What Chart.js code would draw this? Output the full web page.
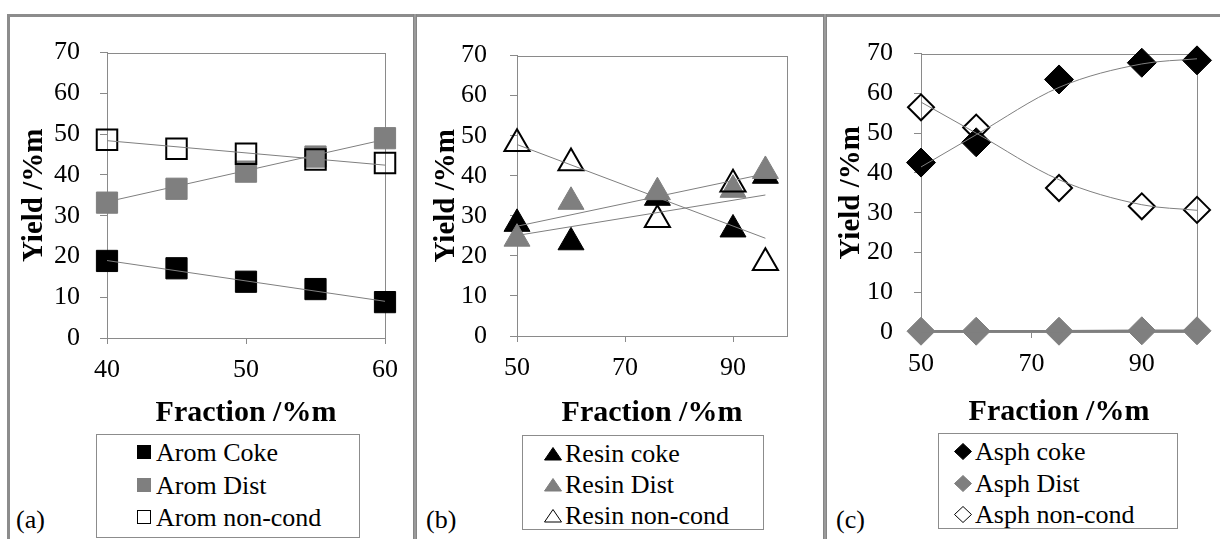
<!DOCTYPE html>
<html>
<head>
<meta charset="utf-8">
<script src="https://cdn.jsdelivr.net/npm/chart.js@4.4.1/dist/chart.umd.min.js"></script>
<style>
  body { margin: 0; background: #fff; }
  #wrap { position: relative; width: 1220px; height: 539px; overflow: hidden; color: #000; }
  .rule { position: absolute; background: #8c8c8c; }
  .panel { position: absolute; top: 17px; }
  .legend { position: absolute; border: 1px solid #8c8c8c; box-sizing: border-box; background: #fff; }
  .legend .row { position: absolute; white-space: nowrap; font-family: 'Liberation Serif'; font-size: 26px; line-height: 30px; height: 30px; }
  .legend svg { vertical-align: -1px; margin-right: 3px; }
  .tag { position: absolute; top: 505px; font-family: 'Liberation Serif'; font-size: 26px; line-height: 30px; }
</style>
</head>
<body>
<div id="wrap">
  <div class="rule" style="left:7px;top:14px;width:1213px;height:3px"></div>
  <div class="rule" style="left:7px;top:14px;width:3px;height:525px"></div>
  <div class="rule" style="left:413px;top:14px;width:4px;height:525px;background:#9a9a9a;border-left:1px solid #858585;border-right:1px solid #858585;box-sizing:border-box"></div>
  <div class="rule" style="left:823px;top:14px;width:4px;height:525px;background:#9a9a9a;border-left:1px solid #858585;border-right:1px solid #858585;box-sizing:border-box"></div>

  <div class="panel" style="left:10px"><canvas id="chartA" width="403" height="415"></canvas></div>
  <div class="panel" style="left:417px"><canvas id="chartB" width="406" height="415"></canvas></div>
  <div class="panel" style="left:827px"><canvas id="chartC" width="393" height="415"></canvas></div>

  <div class="legend" id="legA" style="left:96px;top:434px;width:264px;height:104px"></div>
  <div class="legend" id="legB" style="left:522px;top:435px;width:242px;height:95px"></div>
  <div class="legend" id="legC" style="left:938px;top:433px;width:240px;height:96px"></div>

  <div class="tag" style="left:16px">(a)</div>
  <div class="tag" style="left:426px">(b)</div>
  <div class="tag" style="left:836px">(c)</div>
</div>

<script>
// ---- (a) aromatics ----
const aromX = [40, 45, 50, 55, 60];
const aromCoke = [18.9, 17.1, 13.8, 12.0, 8.8];
const aromDist = [33.2, 36.6, 40.8, 44.5, 49.0];
const aromNonCond = [48.6, 46.4, 45.2, 43.8, 42.9];
const aromTrendX = [40, 60];
const aromCokeTrend = [19.0, 9.0];
const aromDistTrend = [33.4, 48.7];
const aromNonCondTrend = [48.4, 42.4];
const aromLabels = ["Arom Coke", "Arom Dist", "Arom non-cond"];
const aromTicks = [40, 50, 60];

// ---- (b) resins ----
const resinX = [50, 60, 76, 90, 96];
const resinCoke = [28.0, 23.4, 34.5, 26.6, 40.0];
const resinDist = [24.3, 33.5, 35.9, 36.5, 41.2];
const resinNonCond = [48.0, 43.2, 29.0, 37.9, 18.3];
const resinTrendX = [50, 96];
const resinCokeTrend = [25.1, 35.2];
const resinDistTrend = [27.4, 40.5];
const resinNonCondTrend = [47.8, 24.4];
const resinLabels = ["Resin coke", "Resin Dist", "Resin non-cond"];
const resinTicks = [50, 70, 90];

// ---- (c) asphaltenes ----
const asphX = [50, 60, 75, 90, 100];
const asphCoke = [42.6, 47.7, 63.5, 67.7, 68.3];
const asphDist = [0.2, 0.2, 0.2, 0.3, 0.3];
const asphNonCond = [56.5, 51.4, 36.2, 31.6, 30.7];
const asphCokeTrend = [41.5, 49.6, 61.5, 67.4, 68.7];
const asphDistTrend = [0.2, 0.2, 0.2, 0.3, 0.3];
const asphNonCondTrend = [57.8, 50.0, 38.3, 32.0, 30.6];
const asphLabels = ["Asph coke", "Asph Dist", "Asph non-cond"];
const asphTicks = [50, 70, 90];

const yTicksMax = 70;
const GRAY = "#7f7f7f";
const AXIS = "#8a8a8a";
const FONT = "'Liberation Serif'";

Chart.defaults.font.family = FONT;

function pts(xs, ys) {
  return xs.map((x, i) => ({ x: x, y: ys[i] }));
}

// draws the box round the plot area
const plotBox = {
  id: "plotBox",
  beforeDatasetsDraw(chart) {
    const a = chart.chartArea, ctx = chart.ctx;
    ctx.save();
    ctx.strokeStyle = AXIS;
    ctx.lineWidth = 1;
    ctx.strokeRect(Math.round(a.left) + 0.5, Math.round(a.top) + 0.5,
                   Math.round(a.right - a.left), Math.round(a.bottom - a.top));
    ctx.restore();
  }
};

function markerSet(label, xs, ys, style, fill, radius, order) {
  const open = fill === "none";
  return {
    label: label,
    data: pts(xs, ys),
    showLine: false,
    pointStyle: style,
    pointRadius: radius,
    pointHoverRadius: radius,
    pointBackgroundColor: open ? "rgba(0,0,0,0)" : fill,
    pointBorderColor: open ? "#000" : fill,
    pointBorderWidth: open ? 2 : 1,
    clip: false,
    order: order
  };
}

function trendSet(xs, ys, width, curved) {
  return {
    label: "",
    data: pts(xs, ys),
    showLine: true,
    pointRadius: 0,
    borderColor: GRAY,
    borderWidth: width,
    cubicInterpolationMode: curved ? "monotone" : "default",
    clip: false,
    order: 0
  };
}

// p: canvas size, plot area, title centres
function makeChart(id, p, xMin, xMax, xTicks, datasets) {
  const titleLH = 1.2;
  const xTitleBottom = p.xTitleY + 30 * titleLH / 2;
  new Chart(document.getElementById(id), {
    type: "scatter",
    data: { datasets: datasets },
    options: {
      responsive: false,
      animation: false,
      events: [],
      layout: {
        padding: { left: 0, top: p.top, right: p.w - p.right, bottom: p.h - xTitleBottom }
      },
      plugins: { legend: { display: false }, tooltip: { enabled: false } },
      scales: {
        x: {
          type: "linear",
          min: xMin,
          max: xMax,
          afterBuildTicks: s => { s.ticks = xTicks.map(v => ({ value: v })); },
          afterFit: s => { s.height = xTitleBottom - p.bottom; },
          ticks: { color: "#000", font: { family: FONT, size: 26 }, padding: 11, maxRotation: 0, autoSkip: false },
          grid: { drawOnChartArea: false, drawTicks: true, tickLength: 6, color: AXIS },
          border: { color: AXIS, width: 1 },
          title: { display: true, text: "Fraction /%m", color: "#000", padding: 0,
                   font: { family: FONT, size: 30, weight: "bold", lineHeight: titleLH } }
        },
        y: {
          min: 0,
          max: yTicksMax,
          afterFit: s => { s.width = p.left; },
          ticks: { stepSize: 10, color: "#000", font: { family: FONT, size: 26 }, padding: p.yPad },
          grid: { drawOnChartArea: false, drawTicks: true, tickLength: 7, color: AXIS },
          border: { color: AXIS, width: 1 },
          title: { display: true, text: "Yield /%m", color: "#000",
                   padding: { top: p.yTitleX - 29 * titleLH / 2, bottom: 0 },
                   font: { family: FONT, size: 29, weight: "bold", lineHeight: titleLH } }
        }
      }
    },
    plugins: [plotBox]
  });
}

makeChart("chartA",
  { w: 403, h: 415, left: 97, top: 15, right: 375, bottom: 321, xTitleY: 396, yTitleX: 25, yPad: 20 },
  40, 60, aromTicks, [
    trendSet(aromTrendX, aromCokeTrend, 1, false),
    trendSet(aromTrendX, aromDistTrend, 1, false),
    trendSet(aromTrendX, aromNonCondTrend, 1, false),
    markerSet(aromLabels[2], aromX, aromNonCond, "rect", "none", 14.5, 1),
    markerSet(aromLabels[1], aromX, aromDist, "rect", GRAY, 15, 2),
    markerSet(aromLabels[0], aromX, aromCoke, "rect", "#000", 15, 3)
  ]);

makeChart("chartB",
  { w: 406, h: 415, left: 100, top: 15, right: 370, bottom: 319, xTitleY: 396, yTitleX: 30, yPad: 23 },
  50, 100, resinTicks, [
    trendSet(resinTrendX, resinCokeTrend, 1, false),
    trendSet(resinTrendX, resinDistTrend, 1, false),
    trendSet(resinTrendX, resinNonCondTrend, 1, false),
    markerSet(resinLabels[2], resinX, resinNonCond, "triangle", "none", 14.5, 1),
    markerSet(resinLabels[1], resinX, resinDist, "triangle", GRAY, 15, 2),
    markerSet(resinLabels[0], resinX, resinCoke, "triangle", "#000", 15, 3)
  ]);

makeChart("chartC",
  { w: 393, h: 415, left: 94, top: 15, right: 370, bottom: 315, xTitleY: 395, yTitleX: 25, yPad: 21 },
  50, 100, asphTicks, [
    trendSet(asphX, asphCokeTrend, 1, true),
    trendSet(asphX, asphDistTrend, 2.5, false),
    trendSet(asphX, asphNonCondTrend, 1, true),
    markerSet(asphLabels[2], asphX, asphNonCond, "rectRot", "none", 13, 1),
    markerSet(asphLabels[1], asphX, asphDist, "rectRot", GRAY, 14, 2),
    markerSet(asphLabels[0], asphX, asphCoke, "rectRot", "#000", 14.5, 3)
  ]);

// ---- legends ----
function symbol(shape, fill) {
  const f = fill === "none" ? "#fff" : fill;
  const s = fill === "none" ? "#000" : fill;
  let body;
  if (shape === "rect") body = '<rect x="2.5" y="2.5" width="13" height="13" fill="' + f + '" stroke="' + s + '" stroke-width="1"/>';
  else if (shape === "triangle") body = '<polygon points="9,3.5 17.5,16 0.5,16" fill="' + f + '" stroke="' + s + '" stroke-width="1"/>';
  else body = '<polygon points="9,1.5 17.5,9.5 9,17.5 0.5,9.5" fill="' + f + '" stroke="' + s + '" stroke-width="1"/>';
  return '<svg width="18" height="19" viewBox="0 0 18 19">' + body + '</svg>';
}

function buildLegend(id, labels, shape, indent, gap) {
  const fills = ["#000", GRAY, "none"];
  const el = document.getElementById(id);
  el.innerHTML = labels.map((t, i) =>
    '<div class="row" style="left:' + indent + 'px;top:' + (3 + i * gap) + 'px">' +
    symbol(shape, fills[i]) + t + '</div>').join("");
}

buildLegend("legA", aromLabels, "rect", 38, 32.5);
buildLegend("legB", resinLabels, "triangle", 21, 31);
buildLegend("legC", asphLabels, "rectRot", 15, 31.5);
</script>
</body>
</html>
